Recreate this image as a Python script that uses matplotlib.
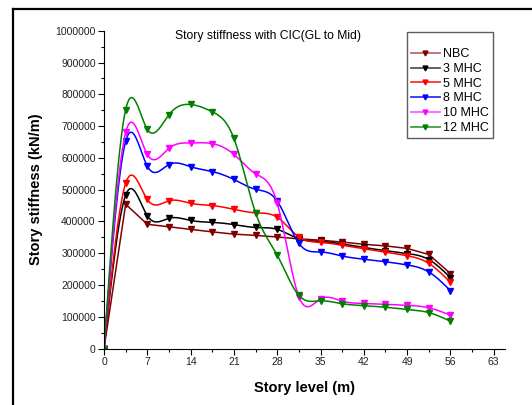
import matplotlib
matplotlib.use('Agg')
import matplotlib.pyplot as plt
import numpy as np
from matplotlib.lines import Line2D
from matplotlib.ticker import MultipleLocator

plt.rcParams['font.family'] = ['Liberation Sans', 'DejaVu Sans']

# Story levels (m)
levels = [0, 3.5, 7, 10.5, 14, 17.5, 21, 24.5, 28, 31.5, 35, 38.5, 42, 45.5, 49, 52.5, 56]

# Story stiffness (kN/m)
nbc = [0, 454000, 391000, 383000, 375000, 367000, 360000, 356000, 351000, 345000,
       341000, 335000, 328000, 323000, 315000, 296000, 236000]
mhc3 = [0, 483000, 418000, 410000, 403000, 397000, 390000, 381000, 375000, 345000,
        337000, 329000, 318000, 308000, 299000, 280000, 223000]
mhc5 = [0, 520000, 469000, 465000, 457000, 450000, 438000, 427000, 413000, 351000,
        334000, 325000, 314000, 303000, 292000, 268000, 208000]
mhc8 = [0, 652000, 574000, 579000, 572000, 557000, 532000, 501000, 464000, 331000,
        304000, 291000, 281000, 273000, 263000, 241000, 182000]
mhc10 = [0, 680000, 611000, 630000, 647000, 645000, 611000, 550000, 457000, 163000,
         156000, 149000, 142000, 139000, 136000, 128000, 105000]
mhc12 = [0, 752000, 690000, 736000, 768000, 745000, 661000, 427000, 294000, 167000,
         150000, 141000, 135000, 130000, 123000, 113000, 86000]

names = ['NBC', '3 MHC', '5 MHC', '8 MHC', '10 MHC', '12 MHC']
series = [nbc, mhc3, mhc5, mhc8, mhc10, mhc12]
colors = ['#800000', '#000000', '#ff0000', '#0000ff', '#ff00ff', '#008000']
legend_colors = ['#b07070', '#555555', '#ff3030', '#3030ff', '#ff60ff', '#40a040']
smooth = [False, True, True, True, True, True]

y_ticks = [0, 100000, 200000, 300000, 400000, 500000, 600000, 700000, 800000, 900000, 1000000]
x_ticks = [0, 7, 14, 21, 28, 35, 42, 49, 56, 63]


# natural cubic spline through the points
def spline(x, y, num=600):
    x = np.asarray(x, float)
    y = np.asarray(y, float)
    n = len(x)
    h = np.diff(x)
    A = np.zeros((n, n))
    b = np.zeros(n)
    A[0, 0] = 1
    A[-1, -1] = 1
    for i in range(1, n - 1):
        A[i, i - 1] = h[i - 1]
        A[i, i] = 2 * (h[i - 1] + h[i])
        A[i, i + 1] = h[i]
        b[i] = 6 * ((y[i + 1] - y[i]) / h[i] - (y[i] - y[i - 1]) / h[i - 1])
    M = np.linalg.solve(A, b)
    xs = np.linspace(x[0], x[-1], num)
    idx = np.clip(np.searchsorted(x, xs) - 1, 0, n - 2)
    x0, x1 = x[idx], x[idx + 1]
    hh = x1 - x0
    ys = (M[idx] * (x1 - xs) ** 3 / (6 * hh) + M[idx + 1] * (xs - x0) ** 3 / (6 * hh)
          + (y[idx] / hh - M[idx] * hh / 6) * (x1 - xs)
          + (y[idx + 1] / hh - M[idx + 1] * hh / 6) * (xs - x0))
    return xs, ys


fig = plt.figure(figsize=(5.32, 4.05), dpi=100)
ax = fig.add_axes([0.1955, 0.1395, 0.7535, 0.7845])

handles = []
for name, vals, c, lc, sm in zip(names, series, colors, legend_colors, smooth):
    if sm:
        xs, ys = spline(levels, vals)
    else:
        xs, ys = levels, vals
    ax.plot(xs, ys, color=c, linewidth=1.1)
    ax.plot(levels, vals, linestyle='none', marker='v', markersize=4.5, color=c)
    handles.append(Line2D([], [], color=lc, linewidth=1.3, marker='v', markersize=3.5,
                          markerfacecolor=c, markeredgecolor=c, label=name))

ax.set_xlim(0, 64.8)
ax.set_ylim(0, 1000000)
ax.set_xticks(x_ticks)
ax.set_xticklabels([str(t) for t in x_ticks])
ax.set_yticks(y_ticks)
ax.set_yticklabels([str(t) for t in y_ticks])
ax.xaxis.set_minor_locator(MultipleLocator(3.5))
ax.yaxis.set_minor_locator(MultipleLocator(50000))
ax.tick_params(which='major', direction='out', length=4, width=0.8, labelsize=7.5,
               labelcolor='#222222', pad=2)
ax.tick_params(which='minor', direction='out', length=2, width=0.8)
ax.spines['top'].set_visible(False)
ax.spines['right'].set_visible(False)
for s in ['left', 'bottom']:
    ax.spines[s].set_linewidth(0.8)

ax.set_xlabel('Story level (m)', fontsize=10.5, fontweight='bold', labelpad=10)
ax.set_ylabel('Story stiffness (kN/m)', fontsize=10.5, fontweight='bold', labelpad=9)
ax.text(0.41, 0.983, 'Story stiffness with CIC(GL to Mid)', transform=ax.transAxes,
        ha='center', va='center', fontsize=8.7)

leg = ax.legend(handles=handles, loc='upper left', bbox_to_anchor=(0.756, 0.997),
                borderaxespad=0, fancybox=False, frameon=True, fontsize=9,
                title=' ', title_fontsize=7, handlelength=2.3, handletextpad=0.3,
                labelspacing=0.22, borderpad=0.3)
leg.get_frame().set_edgecolor('#333333')
leg.get_frame().set_linewidth(1.0)

# outer frame of the figure
fig.add_artist(Line2D([12.5 / 532, 12.5 / 532], [0, 1 - 9 / 405], color='black',
                      linewidth=1.6, transform=fig.transFigure))
fig.add_artist(Line2D([12.5 / 532, 1], [1 - 9 / 405, 1 - 9 / 405], color='black',
                      linewidth=1.6, transform=fig.transFigure))

plt.savefig('out.png', dpi=100)
plt.close()
